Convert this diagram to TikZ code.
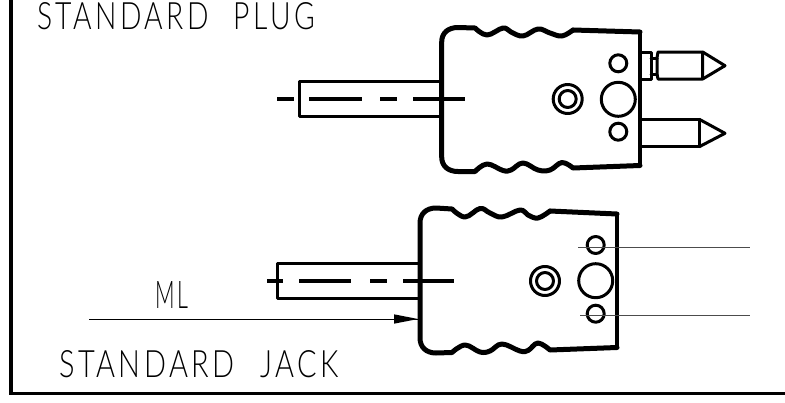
\documentclass[tikz,border=0pt]{standalone}
\usepackage{fontspec}
\newfontfamily\drawfont[LetterSpace=12]{Lato Light}
\newcommand{\lbl}[3]{\resizebox{#1pt}{#2pt}{\fontsize{38}{38}\drawfont #3}}
\tikzset{
  x=1pt,y=-1pt,
  body/.style={line width=5pt,line cap=round,line join=round},
  rear/.style={line width=4pt,line cap=round,line join=round},
  part/.style={line width=3pt,line cap=round,line join=round},
  axis/.style={line width=3.4pt},
  thin line/.style={line width=1pt,black!70},
  frame/.style={line width=3.4pt},
  title/.style={inner sep=0pt,anchor=base west},
}
\begin{document}
\begin{tikzpicture}
\useasboundingbox (0,0) rectangle (785,402);
% frame
\draw[frame] (11,0) -- (11,393.5) -- (785,393.5);
% ---- plug ----
\draw[body] (573,30) plot[smooth,tension=0.65] coordinates {(573,30) (562,36) (550,33) (538,29) (523,36) (511,32) (503,28) (487,35) (475,28)}
  -- (458,27.5) .. controls (448,27.5) and (441.7,33) .. (441.7,42) -- (441.7,157)
  .. controls (441.7,166) and (448,171.5) .. (458,171.5) -- (475,171.5)
  plot[smooth,tension=0.65] coordinates {(475,171.5) (487,164) (503,170.5) (511,170) (523,163) (538,170) (550,170) (562,162.5) (573,168)}
  -- (640,165.5);
\draw[body] (573,30) -- (640,32);
\draw[rear] (640,32) -- (640,165.5);
% pin upper
\draw[part] (640,52) -- (651,52) -- (651,79) -- (640,79);
\draw[part] (651,58) -- (657,58) (651,74) -- (657,74);
\draw[part] (657,58) -- (658,52) -- (702.7,52) -- (702.7,79) -- (658,79) -- (657,74) -- cycle;
\draw[part] (702.7,52) -- (725,65.7) -- (702.7,79);
% pin lower
\draw[part] (640,119.3) -- (699.3,119.3) -- (699.3,146.7) -- (640,146.7);
\draw[part] (699.3,119.3) -- (725,133.3) -- (699.3,146.7);
% plug holes
\draw[part] (618.3,63.3) circle[radius=8.5];
\draw[part] (618.3,131.7) circle[radius=8.5];
\draw[part] (618.3,99.3) circle[radius=17];
\draw[part] (567.7,99) circle[radius=14.5];
\draw[part] (567.7,99) circle[radius=8.5];
% plug tube
\draw[part] (441,81.7) -- (299,81.7) -- (299,116.7) -- (441,116.7);
\draw[axis] (277,99) -- (294,99) (309,99) -- (362,99) (380,99) -- (397,99) (413,99) -- (465,99);
% ---- jack ----
\draw[body] (550,211) plot[smooth,tension=0.65] coordinates {(550,211) (538,218) (528,215) (520,210) (502,217) (490,213) (480,208.5) (465,217) (452,209)}
  -- (436,208) .. controls (426,208) and (420,214) .. (420,223) -- (420,338)
  .. controls (420,347) and (426,353) .. (436,353) -- (452,352.5)
  plot[smooth,tension=0.65] coordinates {(452,352.5) (465,345) (480,352) (490,351) (502,344) (520,351) (528,350.5) (538,343) (550,350)}
  -- (617,347.5);
\draw[body] (550,211) -- (617,214);
\draw[rear] (617,214) -- (617,347.5);
% jack holes
\draw[part] (595.7,245) circle[radius=8.5];
\draw[part] (595.7,313.7) circle[radius=8.5];
\draw[part] (595.7,280.7) circle[radius=17];
\draw[part] (545,281) circle[radius=14.5];
\draw[part] (545,281) circle[radius=8.5];
\draw[thin line] (578,247) -- (750,247);
\draw[thin line] (580,315) -- (750,315);
% jack tube
\draw[part] (420,263) -- (277,263) -- (277,298) -- (420,298);
\draw[axis] (267,281) -- (283,281) (299,281) -- (351,281) (370,281) -- (387,281) (403,281) -- (454,281);
% ML arrow
\coordinate (mlstart) at (89,319);
\coordinate (mlend) at (418,319);
\draw[line width=1pt] (mlstart) -- (mlend);
\fill (mlend) -- (394,314.3) -- (394,323.7) -- cycle;
% labels
\node[title] (plug) at (37,29.5) {\lbl{278}{27}{STANDARD\hspace{0.9em}PLUG}};
\node[title] (jack) at (59,377) {\lbl{280}{27}{STANDARD\hspace{0.9em}JACK}};
\node[title] (ml) at (155,308) {\lbl{33}{27}{ML}};
\end{tikzpicture}
\end{document}
